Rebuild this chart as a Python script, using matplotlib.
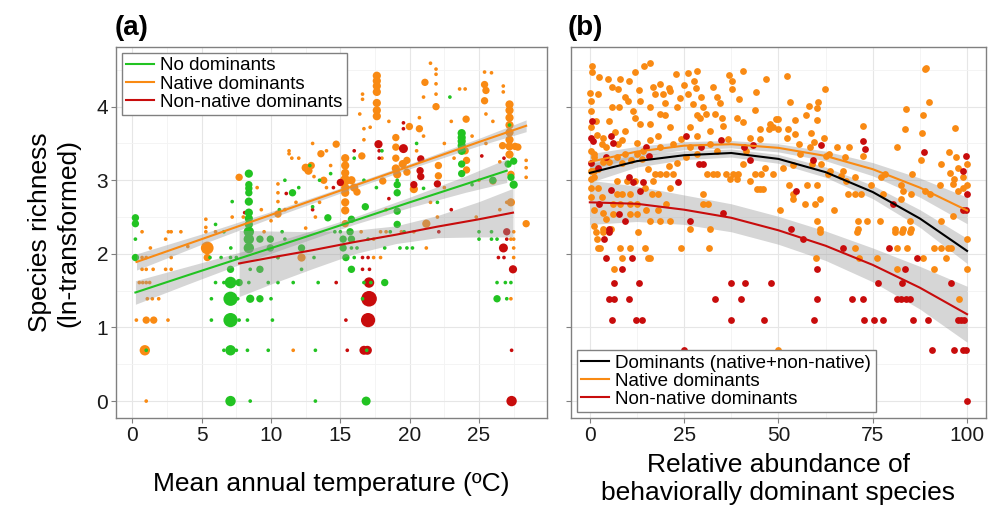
"""
Species richness against mean annual temperature (a) and against the
relative abundance of behaviorally dominant species (b).
"""

import matplotlib
matplotlib.use("Agg")  # no display in the sandbox
import matplotlib.pyplot as plt
import numpy as np

plt.rcParams["font.family"] = ["Liberation Sans", "DejaVu Sans"]

GREEN = "#22c322"
ORANGE = "#f98a13"
RED = "#c80c0c"
BAND = "#999999"

# ---------------------------------------------------------------------------
# Panel (a): (temperature, ln richness, overlapping sites)
# ---------------------------------------------------------------------------
no_dom_pts = [
    (0.22, 1.95, 4), (0.22, 2.41, 4), (0.22, 2.49, 4), (0.22, 2.20, 1), (1.0, 0.69, 1),
    (7.08, 0.0, 8), (8.5, 0.0, 1), (13.2, 0.0, 1), (16.86, 0.0, 6),
    (6.6, 0.69, 1), (7.08, 0.69, 8), (7.5, 0.69, 1), (8.3, 0.69, 1), (9.8, 0.69, 1),
    (13.2, 0.69, 1), (16.9, 0.69, 1),
    (5.7, 1.10, 1), (7.08, 1.10, 15), (7.7, 1.10, 1), (8.3, 1.10, 1), (10.1, 1.10, 1),
    (5.7, 1.39, 1), (7.08, 1.39, 15), (7.6, 1.39, 1), (8.5, 1.39, 5), (9.2, 1.39, 4),
    (10.0, 1.39, 1), (16.6, 1.39, 1), (26.3, 1.39, 4), (27.0, 1.39, 1),
    (6.0, 1.61, 1), (6.6, 1.61, 1), (7.08, 1.61, 10), (7.7, 1.61, 4), (8.4, 1.61, 1),
    (9.8, 1.61, 1), (10.5, 1.61, 1), (11.6, 1.61, 1), (13.4, 1.61, 1), (16.7, 1.61, 1),
    (17.2, 1.61, 1), (18.2, 1.61, 4), (26.3, 1.61, 1), (26.9, 1.61, 1), (27.3, 1.61, 1),
    (7.08, 1.79, 4), (8.5, 1.79, 1), (9.2, 1.79, 4), (12.2, 1.79, 1), (15.8, 1.79, 4),
    (5.6, 1.95, 1), (6.4, 1.95, 1), (7.08, 1.95, 1), (7.5, 1.95, 1), (10.5, 1.95, 1),
    (13.1, 1.95, 1), (15.4, 1.95, 4), (16.0, 1.95, 1),
    (7.1, 2.08, 1), (8.4, 2.08, 8), (9.95, 2.08, 4), (12.2, 2.08, 4), (15.2, 2.08, 4),
    (15.8, 2.08, 1), (16.2, 2.08, 1), (18.2, 2.08, 1), (19.3, 2.08, 1), (19.8, 2.08, 1),
    (20.2, 2.08, 1),
    (8.4, 2.20, 8), (9.2, 2.20, 4), (9.95, 2.20, 4), (11.0, 2.20, 1), (15.2, 2.20, 4),
    (15.8, 2.20, 4), (25.0, 2.20, 1), (25.9, 2.20, 1), (26.3, 2.20, 1),
    (8.4, 2.30, 8), (10.8, 2.30, 1), (14.6, 2.30, 1), (15.7, 2.30, 4), (18.6, 2.30, 1),
    (19.6, 2.30, 1), (25.0, 2.30, 1), (25.9, 2.30, 1),
    (8.4, 3.09, 5), (8.4, 2.94, 4), (8.4, 2.89, 4), (8.4, 2.83, 4), (8.4, 2.71, 5),
    (8.4, 2.56, 5), (8.4, 2.48, 5), (8.4, 2.40, 5),
    (7.2, 2.71, 1), (6.6, 2.30, 1), (6.0, 2.40, 1), (11.55, 2.83, 4), (14.1, 2.49, 4),
    (16.8, 2.64, 4), (15.0, 2.30, 1),
    (19.1, 2.94, 4), (19.1, 2.83, 4), (19.1, 2.58, 4), (19.1, 2.40, 4), (19.1, 3.0, 1),
    (23.75, 3.64, 5), (23.75, 3.58, 5), (23.75, 3.53, 5), (23.75, 3.47, 5),
    (23.75, 3.40, 5), (23.75, 3.22, 4), (23.75, 3.09, 4),
    (22.9, 4.13, 1), (27.1, 3.22, 4), (27.5, 3.26, 4), (27.5, 2.94, 5), (27.3, 3.04, 4),
    (26.0, 3.0, 4), (27.2, 3.75, 1),
    (16.7, 3.0, 1), (17.6, 2.9, 1), (15.8, 2.47, 4), (14.3, 3.09, 1), (13.5, 3.0, 1),
    (12.0, 2.9, 1), (10.6, 2.6, 1), (11.0, 3.0, 1), (22.0, 2.7, 1), (21.0, 2.89, 1),
    (24.5, 2.94, 1), (18.0, 3.4, 1), (17.0, 2.2, 1), (16.0, 3.3, 1), (20.5, 3.5, 1),
    (13.0, 2.64, 1), (12.8, 3.2, 1),
]

native_pts = [
    (1.0, 0.0, 1), (0.9, 0.69, 8), (11.6, 0.69, 1),
    (0.29, 1.10, 1), (1.0, 1.10, 4), (1.54, 1.10, 4), (2.57, 1.10, 1),
    (1.08, 1.39, 1), (1.44, 1.39, 1), (1.9, 1.39, 1), (27.3, 1.39, 1),
    (0.5, 1.61, 1), (0.75, 1.61, 1), (1.0, 1.61, 1), (1.25, 1.61, 1),
    (0.7, 1.79, 1), (1.0, 1.79, 1), (1.5, 1.79, 1), (2.4, 1.79, 1), (2.8, 1.79, 1),
    (0.7, 1.95, 1), (1.0, 1.95, 1), (2.8, 1.95, 1), (5.4, 1.95, 4), (10.5, 1.95, 1),
    (12.2, 1.95, 5), (17.4, 1.95, 1), (17.9, 1.95, 1), (27.5, 1.95, 1),
    (1.3, 2.08, 1), (5.4, 2.08, 12), (21.2, 2.08, 1), (27.5, 2.08, 1),
    (2.4, 2.20, 1), (17.4, 2.20, 1), (27.5, 2.20, 1),
    (0.7, 2.30, 1), (2.6, 2.30, 1), (2.8, 2.30, 1), (5.3, 2.30, 1), (16.5, 2.30, 1),
    (17.9, 2.30, 1), (18.3, 2.30, 1), (19.4, 2.30, 1), (27.5, 2.30, 1),
    (5.3, 2.47, 1), (5.3, 2.36, 1), (7.7, 3.04, 4), (7.2, 2.5, 1), (10.5, 2.54, 4),
    (10.5, 2.95, 1), (10.5, 2.83, 1), (10.5, 2.71, 1), (11.3, 3.4, 1), (11.5, 3.3, 1),
    (12.5, 3.17, 5), (12.7, 3.13, 5), (12.9, 3.2, 4), (13.6, 3.36, 4), (13.8, 3.0, 4),
    (13.1, 3.05, 1), (12.0, 3.3, 1), (11.3, 3.36, 1),
    (14.7, 3.49, 4), (15.35, 3.3, 5), (15.35, 3.2, 5), (15.35, 3.1, 5), (15.35, 3.0, 8),
    (15.35, 2.9, 5), (15.35, 2.83, 5), (15.35, 2.70, 5), (15.35, 2.59, 5),
    (15.35, 2.41, 4), (15.8, 3.0, 5), (16.0, 2.9, 5), (16.2, 2.84, 4), (16.55, 3.33, 4),
    (16.6, 4.17, 1), (16.6, 4.1, 1), (16.7, 3.7, 1), (16.7, 3.55, 1), (17.15, 3.72, 1),
    (17.63, 4.42, 5), (17.63, 4.35, 5), (17.63, 4.28, 5), (17.63, 4.2, 5),
    (17.63, 4.05, 5), (17.63, 3.95, 5), (17.63, 3.87, 5),
    (18.06, 2.99, 4), (19.0, 3.58, 4), (19.0, 3.45, 4), (19.0, 3.30, 4), (19.0, 3.16, 5),
    (19.1, 3.08, 5), (19.5, 3.22, 5), (19.8, 3.11, 4), (19.8, 3.27, 4), (19.98, 3.73, 4),
    (20.3, 2.88, 5),
    (20.7, 3.85, 1), (20.7, 3.70, 4), (21.0, 4.13, 1), (21.1, 4.33, 4), (21.2, 2.41, 5),
    (21.5, 4.59, 1), (21.9, 4.51, 1), (21.9, 4.44, 1), (21.9, 4.31, 1), (21.9, 4.17, 1),
    (21.9, 4.0, 4), (22.07, 3.2, 4), (22.07, 3.06, 4), (23.6, 4.24, 1), (24.0, 4.24, 1),
    (24.07, 3.83, 4), (24.0, 3.40, 4), (24.1, 3.27, 4), (24.1, 3.14, 4),
    (25.4, 4.47, 1), (25.9, 4.46, 1), (25.4, 4.30, 4), (25.5, 4.22, 4), (25.4, 4.08, 4),
    (25.5, 3.9, 1), (26.0, 2.99, 4), (26.7, 3.47, 4), (26.75, 4.28, 1), (26.75, 4.2, 1),
    (27.2, 4.03, 5), (27.2, 3.95, 5), (27.2, 3.85, 5), (27.2, 3.75, 5), (27.2, 3.65, 5),
    (27.2, 3.55, 5), (27.2, 3.46, 5), (27.2, 3.35, 5), (27.6, 3.46, 4), (27.8, 3.45, 4),
    (27.3, 3.08, 4), (27.0, 2.70, 1), (27.3, 2.70, 5), (27.3, 2.2, 1),
    (28.4, 3.27, 1), (28.4, 3.17, 1), (28.4, 3.04, 1), (28.4, 2.41, 4),
    (9.5, 2.3, 1), (10.0, 2.45, 1), (11.0, 2.6, 1), (11.8, 2.7, 1), (12.5, 2.35, 1),
    (13.2, 2.5, 1), (13.5, 2.7, 1), (14.0, 2.9, 1), (14.3, 3.2, 1), (14.0, 3.4, 1),
    (13.0, 3.5, 1), (16.4, 3.9, 1), (18.5, 3.8, 1), (18.3, 2.6, 1), (18.0, 3.3, 1),
    (20.3, 2.3, 1), (20.5, 3.4, 1), (21.0, 3.6, 1), (22.5, 3.5, 1), (22.5, 2.9, 1),
    (23.0, 3.8, 1), (23.2, 3.3, 1), (24.5, 3.6, 1), (25.0, 3.0, 1), (25.5, 3.5, 1),
    (26.0, 3.8, 1), (26.5, 2.6, 1), (26.5, 3.25, 1), (24.8, 2.5, 1), (22.0, 2.5, 1),
    (21.5, 2.7, 1), (9.0, 2.9, 1), (9.3, 2.6, 1), (8.0, 2.5, 1), (6.0, 2.3, 1),
    (3.5, 2.3, 1), (4.0, 2.1, 1),
]

nonnative_pts = [
    (27.35, 0.0, 8), (15.5, 0.69, 1), (16.7, 0.69, 6), (16.95, 0.69, 6), (27.35, 0.69, 1),
    (15.4, 1.10, 1), (17.0, 1.10, 15), (17.07, 1.39, 18), (14.7, 1.61, 1), (17.07, 1.61, 8),
    (16.6, 1.79, 1), (17.1, 1.79, 1), (27.45, 1.79, 5),
    (16.6, 1.95, 1), (17.0, 1.95, 1), (26.8, 1.95, 1), (26.4, 1.95, 1),
    (26.76, 2.08, 6), (27.0, 2.20, 1), (22.1, 2.30, 1),
    (8.1, 2.56, 1), (11.1, 2.82, 1), (17.75, 3.49, 5), (17.8, 3.40, 1), (17.8, 3.30, 1),
    (19.55, 3.43, 6), (19.55, 3.78, 1), (19.55, 3.70, 1), (20.75, 3.13, 4),
    (20.3, 2.94, 4), (22.0, 2.95, 4), (20.8, 3.29, 4), (20.8, 3.05, 4), (25.2, 3.33, 1),
    (16.0, 3.4, 1), (14.5, 2.9, 1), (13.0, 2.6, 1), (26.8, 3.3, 1), (23.0, 2.6, 1),
    (15.0, 2.97, 4), (18.5, 2.75, 1), (27.0, 2.3, 4),
]

# panel (a) fitted lines and half-width of their confidence bands
no_dom_fit_x = [0.22, 4, 8, 12, 16, 20, 24, 27.0]
no_dom_fit_y = [1.475, 1.71, 1.955, 2.20, 2.45, 2.70, 2.945, 3.13]
no_dom_fit_hw = [0.16, 0.12, 0.08, 0.06, 0.05, 0.07, 0.11, 0.16]

native_fit_x = [0.3, 5, 10, 15, 20, 25, 28.4]
native_fit_y = [1.89, 2.20, 2.53, 2.86, 3.19, 3.52, 3.74]
native_fit_hw = [0.11, 0.07, 0.045, 0.035, 0.035, 0.05, 0.08]

nonnative_fit_x = [7.7, 10, 13, 16, 19, 22, 25, 27.45]
nonnative_fit_y = [1.87, 1.95, 2.05, 2.16, 2.26, 2.37, 2.47, 2.56]
nonnative_fit_hw = [0.45, 0.36, 0.25, 0.16, 0.12, 0.15, 0.24, 0.33]

# ---------------------------------------------------------------------------
# Panel (b): (relative abundance %, ln richness)
# ---------------------------------------------------------------------------
native_b_pts = [
    (0.7, 4.55), (0.7, 4.47), (15.9, 4.59), (14.3, 4.55), (11.9, 4.47), (4.7, 4.37),
    (8.1, 4.38), (2.5, 4.40), (5.9, 4.27), (7.5, 4.24), (9.3, 4.13), (10.2, 4.08),
    (13.4, 4.08), (13.0, 4.23), (16.8, 4.27), (18.7, 4.31), (21.0, 4.26), (19.5, 4.17),
    (22.8, 4.44), (26.0, 4.46), (28.5, 4.49), (27.6, 4.35), (28.1, 4.26), (32.7, 4.27),
    (37.0, 4.43), (37.8, 4.35), (40.7, 4.49), (46.7, 4.38), (37.6, 4.24), (33.6, 4.13),
    (29.6, 4.13), (26.1, 4.17), (23.9, 4.12), (21.2, 4.21), (17.2, 4.17), (15.9, 4.0),
    (6.0, 4.0), (7.8, 4.0), (11.5, 3.94), (18.6, 3.90), (19.9, 3.88), (23.0, 4.0),
    (27.4, 4.03), (28.3, 3.88), (29.2, 3.85), (30.9, 3.90), (33.2, 3.90), (35.4, 3.74),
    (38.9, 3.85), (40.7, 3.79), (43.8, 3.96), (45.1, 3.69), (47.6, 3.69), (49.3, 3.83),
    (48.6, 3.72), (42.4, 3.58), (36.7, 3.56), (31.8, 3.67), (26.5, 3.72), (24.3, 3.56),
    (21.2, 3.72), (18.1, 3.60), (15.9, 3.76), (13.3, 3.76), (9.3, 3.67), (6.6, 3.65),
    (3.5, 3.58), (1.6, 3.81), (0.2, 3.94), (0.2, 4.08), (0.0, 4.19), (2.2, 4.17),
    (0.4, 3.72), (3.1, 3.49), (4.4, 3.45), (7.5, 3.49), (12.4, 3.51), (14.1, 3.40),
    (18.6, 3.45), (22.1, 3.49), (26.5, 3.45), (31.8, 3.49), (33.6, 3.40), (45.1, 3.56),
    (47.7, 3.76), (10.5, 4.35), (20.0, 4.05), (25.0, 4.30), (30.0, 4.00), (34.5, 4.05),
    (39.5, 4.10), (44.0, 4.20), (12.0, 3.85), (5.0, 3.80), (8.5, 3.55), (16.0, 3.55),
    (28.5, 3.60), (35.0, 3.85), (41.5, 3.40), (1.0, 3.35), (2.0, 3.62),
    (0.2, 3.40), (1.2, 3.31), (0.2, 3.13), (1.2, 3.13), (2.2, 3.15), (0.2, 3.02),
    (1.2, 3.04), (0.2, 2.90), (2.2, 2.89), (0.2, 2.77), (3.1, 2.77), (1.0, 2.59),
    (3.5, 2.56), (4.4, 2.47), (1.0, 2.38), (3.5, 3.25), (5.2, 3.25), (7.1, 3.31),
    (8.4, 3.24), (9.3, 3.36), (11.0, 3.27), (12.4, 3.36), (13.7, 3.29), (15.5, 3.15),
    (17.2, 3.08), (18.6, 3.08), (20.3, 3.08), (22.1, 3.08), (21.0, 3.20), (23.0, 3.24),
    (25.6, 3.31), (28.3, 3.36), (31.0, 3.08), (32.7, 3.08), (33.6, 3.08), (36.2, 3.08),
    (38.0, 3.08), (39.3, 3.08), (37.1, 3.02), (38.9, 3.02), (40.7, 3.22), (43.8, 3.08),
    (45.5, 3.08), (46.4, 3.17), (48.6, 3.08), (46.0, 2.88), (44.2, 2.88), (45.1, 2.88),
    (42.4, 2.99), (7.1, 2.99), (9.8, 2.99), (12.1, 2.99), (16.8, 2.99), (7.1, 2.81),
    (8.4, 2.81), (10.6, 2.81), (14.6, 2.90), (16.4, 2.81), (18.1, 2.81), (21.2, 2.90),
    (6.2, 2.68), (8.0, 2.68), (10.6, 2.68), (12.4, 2.68), (14.9, 2.59), (18.1, 2.59),
    (20.3, 2.68), (30.1, 2.81), (30.1, 2.68), (31.4, 2.68), (6.2, 2.54), (10.6, 2.54),
    (12.4, 2.54), (15.9, 2.45), (18.6, 2.45), (21.2, 2.45), (26.5, 2.34), (31.8, 2.34),
    (3.5, 2.34), (5.7, 2.34),
    (88.8, 4.51), (89.2, 4.53), (89.8, 4.06), (52.3, 4.42), (62.3, 4.24), (53.0, 4.06),
    (60.5, 4.06), (60.3, 3.98), (58.0, 4.01), (83.9, 3.97), (88.3, 3.88), (57.4, 3.88),
    (60.3, 3.82), (54.5, 3.82), (72.4, 3.74), (83.6, 3.69), (96.7, 3.71), (52.5, 3.69),
    (54.3, 3.63), (58.7, 3.64), (52.3, 3.58), (62.2, 3.57), (88.1, 3.64), (59.4, 3.52),
    (55.5, 3.49), (58.4, 3.45), (65.6, 3.45), (68.7, 3.45), (72.4, 3.33), (81.5, 3.45),
    (62.6, 3.33), (63.4, 3.35), (67.6, 3.31), (95.1, 3.38), (97.1, 3.31), (87.9, 3.27),
    (93.0, 3.22), (97.6, 3.17), (100.0, 3.22), (53.9, 3.21), (51.2, 3.17), (58.9, 3.22),
    (61.4, 3.22), (63.6, 3.13), (63.1, 3.08), (67.2, 3.13), (67.8, 2.99), (66.5, 3.06),
    (70.4, 3.04), (78.3, 3.08), (77.3, 3.04), (85.3, 3.08), (82.6, 2.93), (98.9, 3.04),
    (92.8, 2.93), (96.3, 2.95), (100.0, 2.93), (52.7, 2.93), (57.6, 2.93), (60.3, 2.93),
    (83.0, 2.86), (88.8, 2.86), (90.1, 2.81), (53.9, 2.81), (68.4, 2.81), (70.2, 2.81),
    (71.9, 2.81), (74.6, 2.93), (77.8, 2.81), (85.2, 2.81), (53.9, 2.74), (60.9, 2.74),
    (82.6, 2.74), (57.1, 2.68), (59.7, 2.68), (64.7, 2.60), (96.3, 2.52), (71.1, 2.44),
    (73.6, 2.44), (76.9, 2.44), (84.8, 2.44), (93.2, 2.44), (60.3, 2.44), (60.9, 2.34),
    (71.1, 2.34), (80.8, 2.34), (83.0, 2.34), (85.2, 2.34), (49.9, 3.83), (49.9, 3.69),
    (50.3, 2.59), (55.6, 3.36), (95.5, 3.10), (96.5, 3.02), (99.0, 2.90), (97.5, 2.86),
    (1.6, 2.30), (3.5, 2.30), (12.8, 2.30), (1.8, 2.20), (2.2, 2.08), (2.8, 2.08),
    (8.1, 2.08), (10.6, 2.08), (14.6, 2.08), (24.1, 2.08), (31.7, 2.08), (8.6, 1.95),
    (15.3, 1.95), (15.9, 1.95), (6.5, 1.79), (50.0, 0.69),
    (60.9, 2.30), (70.8, 2.30), (80.8, 2.30), (82.8, 2.30), (85.0, 2.30), (99.9, 2.20),
    (70.4, 2.08), (81.3, 2.08), (84.2, 2.08), (91.3, 2.08), (93.0, 2.08), (95.0, 2.08),
    (95.7, 2.08), (60.0, 1.95), (71.3, 1.95), (76.0, 1.95), (88.3, 1.95), (94.5, 1.95),
    (81.4, 1.79), (91.3, 1.79), (100.0, 1.79), (97.9, 1.39),
]

nonnative_b_pts = [
    (0.6, 3.81), (0.2, 3.58), (0.9, 3.54), (5.7, 3.60), (6.2, 3.51), (25.5, 3.60),
    (34.7, 3.55), (14.9, 3.45), (15.7, 3.33), (29.6, 3.45), (40.9, 3.45), (43.3, 3.48),
    (29.0, 3.22), (30.1, 3.22), (42.4, 3.27), (0.2, 3.24), (2.2, 3.17), (4.2, 3.31),
    (10.4, 3.04), (11.5, 2.97), (14.1, 2.97), (23.4, 2.98), (5.6, 2.87), (13.4, 2.85),
    (2.5, 2.68), (7.8, 2.54), (9.3, 2.44), (5.1, 2.34), (26.5, 2.44), (35.4, 2.56),
    (61.4, 3.48), (72.5, 3.54), (72.9, 3.42), (88.6, 3.38), (99.6, 3.33), (98.9, 3.13),
    (100.0, 2.81), (98.9, 2.60), (99.8, 2.60), (54.7, 2.85), (59.1, 3.27), (80.4, 2.68),
    (53.2, 2.34),
    (5.1, 2.30), (3.8, 2.20), (4.2, 1.95), (11.1, 1.95), (8.6, 1.79), (6.5, 1.61),
    (13.1, 1.61), (37.3, 1.61), (41.1, 1.61), (48.0, 1.61), (5.0, 1.39), (6.5, 1.39),
    (10.3, 1.39), (33.3, 1.39), (40.0, 1.39), (6.0, 1.10), (12.2, 1.10), (13.7, 1.10),
    (37.5, 1.10), (46.2, 1.10), (24.9, 0.69),
    (56.5, 2.20), (67.2, 2.08), (79.2, 2.08), (86.7, 1.95), (60.2, 1.79), (83.5, 1.79),
    (76.4, 1.61), (82.8, 1.61), (95.7, 1.61), (60.2, 1.39), (69.5, 1.39), (72.4, 1.39),
    (81.3, 1.39), (82.5, 1.39), (83.7, 1.39), (85.0, 1.39), (59.4, 1.10), (72.7, 1.10),
    (75.3, 1.10), (77.6, 1.10), (85.7, 1.10), (89.6, 1.10), (97.5, 1.10), (98.3, 1.10),
    (99.2, 1.10), (90.7, 0.69), (96.5, 0.69), (99.0, 0.69), (99.6, 0.69), (100.0, 0.0),
]

# panel (b) quadratic fits read at these abundances, with band half-widths
abund_x = [0, 12.5, 25, 37.5, 50, 62.5, 75, 87.5, 100]
all_dom_fit = [3.10, 3.26, 3.34, 3.37, 3.29, 3.11, 2.84, 2.48, 2.04]
all_dom_hw = [0.13, 0.08, 0.06, 0.055, 0.06, 0.07, 0.09, 0.12, 0.17]
native_b_fit = [3.25, 3.39, 3.47, 3.49, 3.44, 3.33, 3.15, 2.90, 2.59]
native_b_hw = [0.11, 0.07, 0.055, 0.05, 0.055, 0.065, 0.09, 0.13, 0.18]
nonnative_b_fit = [2.70, 2.68, 2.60, 2.49, 2.32, 2.11, 1.85, 1.54, 1.18]
nonnative_b_hw = [0.30, 0.24, 0.20, 0.19, 0.19, 0.20, 0.23, 0.29, 0.38]


def style_panel(ax, xlim, xmajor, xminor):
    """ggplot theme_bw look: grey frame, light grid, short grey ticks."""
    ax.set_xlim(*xlim)
    ax.set_ylim(-0.23, 4.81)
    ax.set_xticks(xmajor)
    ax.set_xticks(xminor, minor=True)
    ax.set_yticks([0, 1, 2, 3, 4])
    ax.set_yticks([0.5, 1.5, 2.5, 3.5, 4.5], minor=True)
    ax.grid(which="major", color="#e6e6e6", linewidth=0.8)
    ax.grid(which="minor", color="#f3f3f3", linewidth=0.6)
    ax.set_axisbelow(True)
    ax.tick_params(which="major", length=3.5, width=0.8, color="#808080",
                   labelsize=15, labelcolor="#1a1a1a", pad=2)
    ax.tick_params(which="minor", length=0)
    for spine in ax.spines.values():
        spine.set_color("#808080")
        spine.set_linewidth(1.0)


def draw_fit(ax, x, y, hw, color, label, band_z=3):
    x = np.asarray(x)
    y = np.asarray(y)
    hw = np.asarray(hw)
    ax.fill_between(x, y - hw, y + hw, color=BAND, alpha=0.4, linewidth=0, zorder=band_z)
    (line,) = ax.plot(x, y, color=color, linewidth=1.5, zorder=4, label=label)
    return line


def add_legend(ax, handles, loc):
    leg = ax.legend(handles=handles, loc=loc, fontsize=13.5, frameon=True,
                    fancybox=False, edgecolor="#808080", framealpha=1,
                    borderpad=0.25, labelspacing=0.05, handlelength=1.5,
                    handletextpad=0.3, borderaxespad=0.3)
    leg.get_frame().set_linewidth(1.0)
    leg.set_zorder(6)


fig = plt.figure(figsize=(9.88, 5.19), dpi=100)
ax_a = fig.add_axes([0.1174, 0.1946, 0.4362, 0.7148])
ax_b = fig.add_axes([0.5779, 0.1946, 0.4200, 0.7148])

# ---- panel (a): bands sit over the points
style_panel(ax_a, (-1.18, 29.9), [0, 5, 10, 15, 20, 25], [2.5, 7.5, 12.5, 17.5, 22.5, 27.5])
for pts, color in [(native_pts, ORANGE), (nonnative_pts, RED), (no_dom_pts, GREEN)]:
    t, r, n = np.array(pts).T
    ax_a.scatter(t, r, s=7 * n, c=color, linewidths=0, zorder=2)

h_no = draw_fit(ax_a, no_dom_fit_x, no_dom_fit_y, no_dom_fit_hw, GREEN, "No dominants")
h_nat = draw_fit(ax_a, native_fit_x, native_fit_y, native_fit_hw, ORANGE, "Native dominants")
h_non = draw_fit(ax_a, nonnative_fit_x, nonnative_fit_y, nonnative_fit_hw, RED,
                 "Non-native dominants")
add_legend(ax_a, [h_no, h_nat, h_non], "upper left")

ax_a.set_xlabel("Mean annual temperature (ºC)", fontsize=19, labelpad=20)
ax_a.set_ylabel("Species richness\n(ln-transformed)", fontsize=19, labelpad=12)

# ---- panel (b): points stay bright above the bands
style_panel(ax_b, (-5, 105), [0, 25, 50, 75, 100], [12.5, 37.5, 62.5, 87.5])
ax_b.tick_params(labelleft=False)
for pts, color in [(native_b_pts, ORANGE), (nonnative_b_pts, RED)]:
    a, r = np.array(pts).T
    ax_b.scatter(a, r, s=24, c=color, linewidths=0, zorder=2.5)

h_all = draw_fit(ax_b, abund_x, all_dom_fit, all_dom_hw, "black",
                 "Dominants (native+non-native)", band_z=2)
h_nat_b = draw_fit(ax_b, abund_x, native_b_fit, native_b_hw, ORANGE, "Native dominants",
                   band_z=2)
h_non_b = draw_fit(ax_b, abund_x, nonnative_b_fit, nonnative_b_hw, RED,
                   "Non-native dominants", band_z=2)
add_legend(ax_b, [h_all, h_nat_b, h_non_b], "lower left")

ax_b.set_xlabel("Relative abundance of\nbehaviorally dominant species", fontsize=19,
                labelpad=6)

fig.text(0.1164, 0.947, "(a)", fontsize=20, fontweight="bold", va="center", ha="left")
fig.text(0.575, 0.947, "(b)", fontsize=20, fontweight="bold", va="center", ha="left")

fig.savefig("out.png", dpi=100)
plt.close(fig)
